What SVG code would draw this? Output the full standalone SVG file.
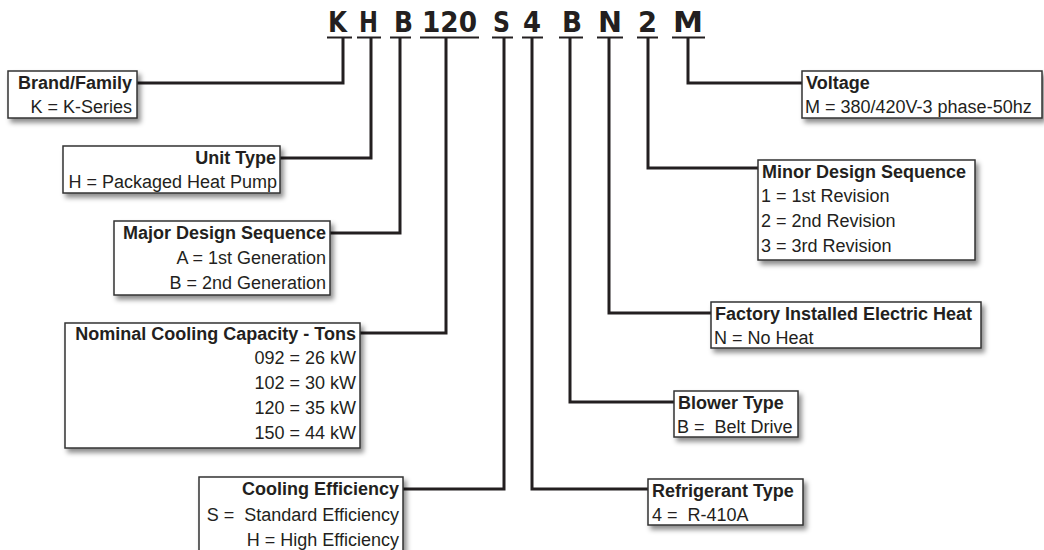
<svg xmlns="http://www.w3.org/2000/svg" width="1044" height="550" viewBox="0 0 1044 550">
<defs>
<filter id="sh" x="-10%" y="-20%" width="130%" height="160%">
<feDropShadow dx="3" dy="4" stdDeviation="2.5" flood-color="#000" flood-opacity="0.45"/>
</filter>
<style>
.box{fill:#fff;stroke:#333;stroke-width:1.5;filter:url(#sh)}
.t{font-family:"Liberation Sans",Arial,sans-serif;font-size:18px;fill:#231f20}
.b{font-weight:bold}
.e{text-anchor:end}
.code{font-family:"DejaVu Sans",sans-serif;font-weight:bold;font-size:28px;fill:#231f20}
.c{fill:none;stroke:#231f20;stroke-width:3}
.u{stroke:#231f20;stroke-width:2;fill:none}
</style>
</defs>
<rect width="1044" height="550" fill="#fff"/>

<g id="code">
<text class="code" x="328" y="32" textLength="19" lengthAdjust="spacingAndGlyphs">K</text>
<text class="code" x="359" y="32" textLength="19" lengthAdjust="spacingAndGlyphs">H</text>
<text class="code" x="394" y="32" textLength="19" lengthAdjust="spacingAndGlyphs">B</text>
<text class="code" x="422" y="32" textLength="55" lengthAdjust="spacingAndGlyphs">120</text>
<text class="code" x="493" y="32" textLength="17" lengthAdjust="spacingAndGlyphs">S</text>
<text class="code" x="523" y="32" textLength="18" lengthAdjust="spacingAndGlyphs">4</text>
<text class="code" x="562" y="32" textLength="20" lengthAdjust="spacingAndGlyphs">B</text>
<text class="code" x="598" y="32" textLength="24" lengthAdjust="spacingAndGlyphs">N</text>
<text class="code" x="638" y="32" textLength="19" lengthAdjust="spacingAndGlyphs">2</text>
<text class="code" x="673" y="32" textLength="30" lengthAdjust="spacingAndGlyphs">M</text>
<path class="u" d="M327,37.5H352M357,37.5H381M390,37.5H411M420,37.5H479M492,37.5H513M522,37.5H543M559,37.5H583M597,37.5H623M637,37.5H658M672,37.5H705"/>
</g>

<g id="connectors">
<path class="c" d="M343,37V83H137"/>
<path class="c" d="M371,37V158H280"/>
<path class="c" d="M400,37V233H330"/>
<path class="c" d="M446,37V333H360"/>
<path class="c" d="M504,37V489H403"/>
<path class="c" d="M532,37V489H648"/>
<path class="c" d="M570,37V402H674"/>
<path class="c" d="M609,37V313H711"/>
<path class="c" d="M648,37V168H758"/>
<path class="c" d="M688,37V83H802"/>
</g>

<g id="brand">
<rect class="box" x="8" y="71" width="129" height="47"/>
<text class="t b e" x="132" y="89">Brand/Family</text>
<text class="t e" x="132" y="113">K = K-Series</text>
</g>

<g id="unit-type">
<rect class="box" x="63" y="146" width="217" height="47"/>
<text class="t b e" x="276" y="164">Unit Type</text>
<text class="t e" x="277" y="188">H = Packaged Heat Pump</text>
</g>

<g id="major-design">
<rect class="box" x="114" y="221" width="216" height="74"/>
<text class="t b e" x="326" y="239">Major Design Sequence</text>
<text class="t e" x="326" y="264">A = 1st Generation</text>
<text class="t e" x="326" y="289">B = 2nd Generation</text>
</g>

<g id="nominal-capacity">
<rect class="box" x="65" y="323" width="295" height="125"/>
<text class="t b e" x="356" y="340">Nominal Cooling Capacity - Tons</text>
<text class="t e" x="356" y="364">092 = 26 kW</text>
<text class="t e" x="356" y="389">102 = 30 kW</text>
<text class="t e" x="356" y="414">120 = 35 kW</text>
<text class="t e" x="356" y="439">150 = 44 kW</text>
</g>

<g id="cooling-efficiency">
<rect class="box" x="199" y="477" width="204" height="85"/>
<text class="t b e" x="399" y="495">Cooling Efficiency</text>
<text class="t e" x="399" y="521" xml:space="preserve">S =  Standard Efficiency</text>
<text class="t e" x="399" y="546">H = High Efficiency</text>
</g>

<g id="refrigerant">
<rect class="box" x="648" y="479" width="155" height="46"/>
<text class="t b" x="652" y="497">Refrigerant Type</text>
<text class="t" x="652" y="521" xml:space="preserve">4 =  R-410A</text>
</g>

<g id="blower">
<rect class="box" x="674" y="391" width="124" height="46"/>
<text class="t b" x="678" y="409">Blower Type</text>
<text class="t" x="677" y="433" xml:space="preserve">B =  Belt Drive</text>
</g>

<g id="electric-heat">
<rect class="box" x="711" y="302" width="270" height="46"/>
<text class="t b" x="715" y="320">Factory Installed Electric Heat</text>
<text class="t" x="714" y="344">N = No Heat</text>
</g>

<g id="minor-design">
<rect class="box" x="758" y="160" width="217" height="100"/>
<text class="t b" x="762" y="178">Minor Design Sequence</text>
<text class="t" x="761" y="202">1 = 1st Revision</text>
<text class="t" x="761" y="227">2 = 2nd Revision</text>
<text class="t" x="761" y="252">3 = 3rd Revision</text>
</g>

<g id="voltage">
<rect class="box" x="802" y="71" width="240" height="47"/>
<text class="t b" x="806" y="89">Voltage</text>
<text class="t" x="805" y="113">M = 380/420V-3 phase-50hz</text>
</g>
</svg>
